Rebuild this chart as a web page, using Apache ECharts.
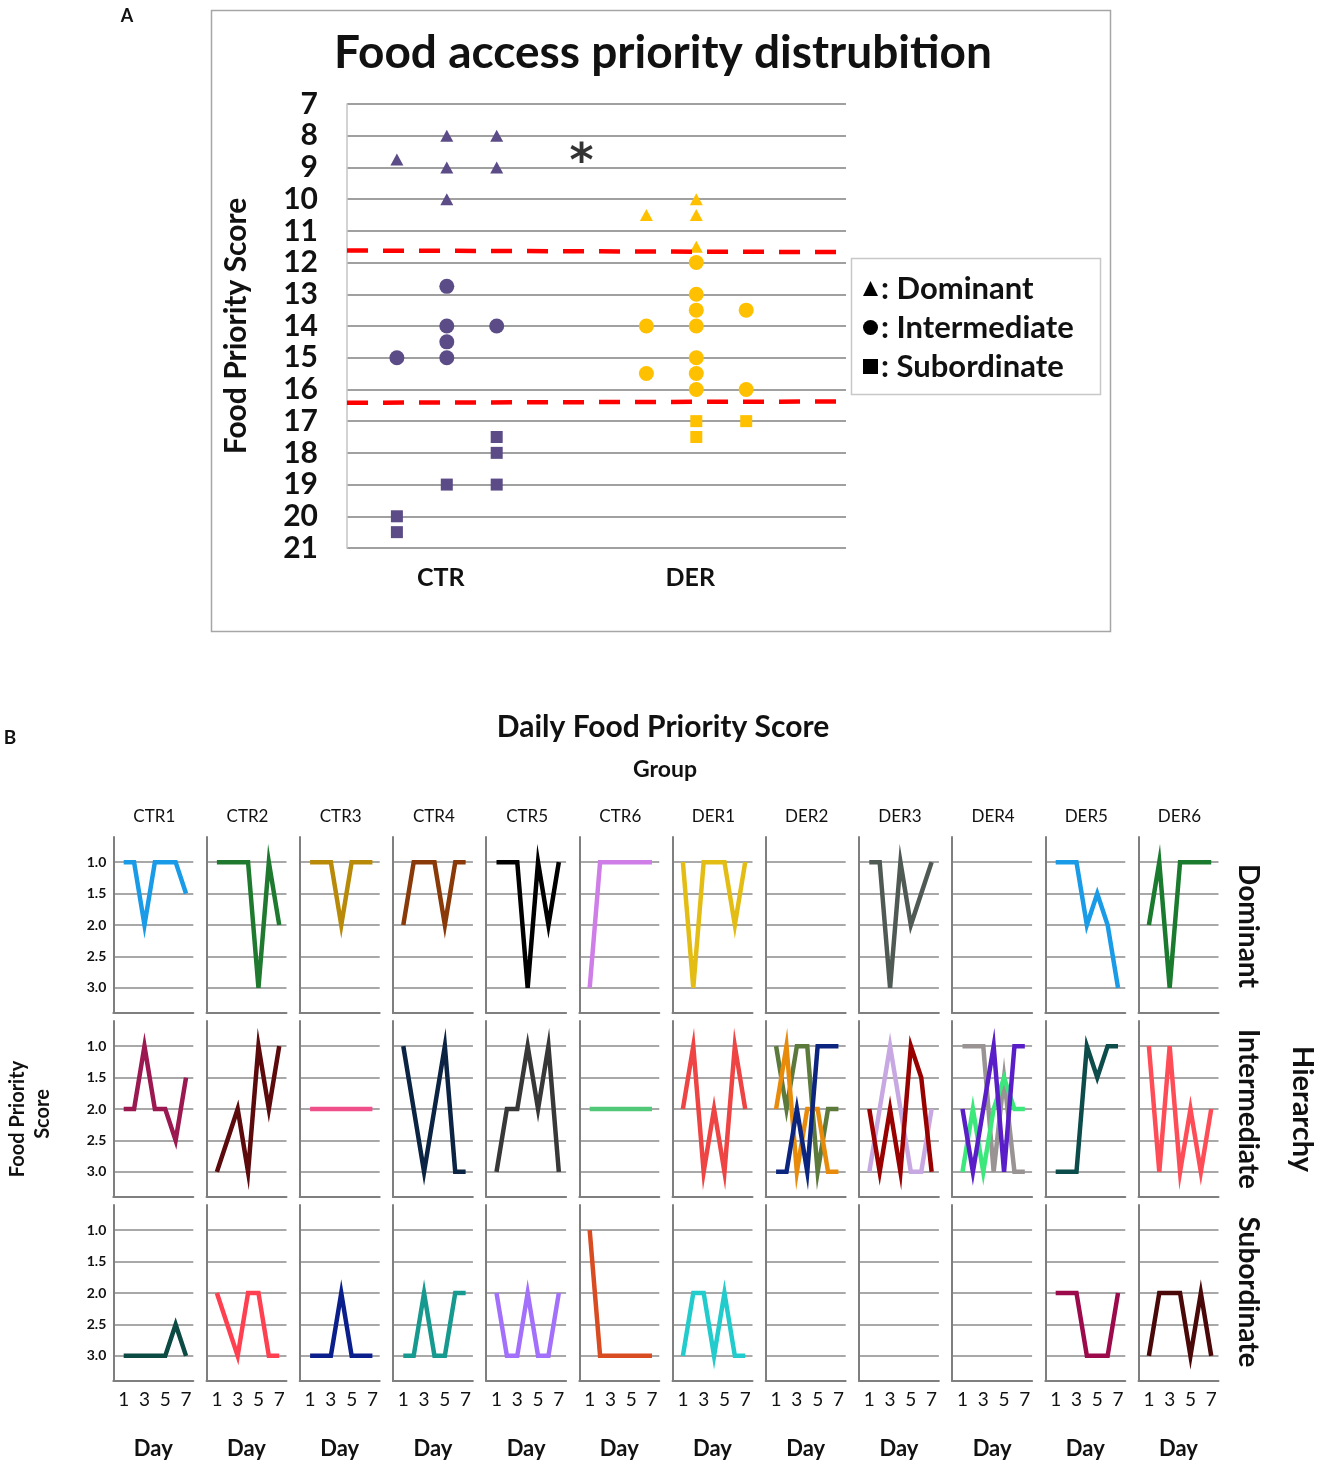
<!DOCTYPE html>
<html><head><meta charset="utf-8">
<script src="https://cdn.jsdelivr.net/npm/echarts@6/dist/echarts.min.js"></script>
<style>html,body{margin:0;padding:0;background:#fff}#c{width:1325px;height:1468px}</style>
</head><body><div id="c"></div><script>
const FONT = 'Lato, "Open Sans", sans-serif';

// ---------- Panel A data: [column slot, food priority score] ----------
const ctrDominant = [[1,8.75],[2,8],[2,9],[2,10],[3,8],[3,9]];
const ctrIntermediate = [[1,15],[2,12.75],[2,14],[2,14.5],[2,15],[3,14]];
const ctrSubordinate = [[1,20],[1,20.5],[2,19],[3,17.5],[3,18],[3,19]];
const derDominant = [[6,10.5],[7,10],[7,10.5],[7,11.5]];
const derIntermediate = [[6,14],[6,15.5],[7,12],[7,13],[7,13.5],[7,14],[7,15],[7,15.5],[7,16],[8,13.5],[8,16]];
const derSubordinate = [[7,17],[7,17.5],[8,17]];
const groupLabels = ['CTR','DER'];
const groupSlots = [2,7];
const upperCut = [[0,11.62],[9.9,11.67]];
const lowerCut = [[0,16.42],[9.9,16.38]];
const significance = [[4.7,8.52]];
const rankNames = ['Dominant','Intermediate','Subordinate'];
const rankIcons = ['triangle','circle','rect'];

// ---------- Panel B data ----------
const animals = ['CTR1','CTR2','CTR3','CTR4','CTR5','CTR6','DER1','DER2','DER3','DER4','DER5','DER6'];
const days = [1,2,3,4,5,6,7];
const dayTicks = [1,3,5,7];
const scoreTicks = [1,1.5,2,2.5,3];

const dominantScores = [
  [[1,1,2,1,1,1,1.5]],
  [[1,1,1,1,3,1,2]],
  [[1,1,1,2,1,1,1]],
  [[2,1,1,1,2,1,1]],
  [[1,1,1,3,1,2,1]],
  [[3,1,1,1,1,1,1]],
  [[1,3,1,1,1,2,1]],
  [],
  [[1,1,3,1,2,1.5,1]],
  [],
  [[1,1,1,2,1.5,2,3]],
  [[2,1,3,1,1,1,1]]
];
const dominantColors = [['#1a9be8'],['#1f7a2f'],['#b88a08'],['#8a3a08'],['#000000'],['#cf7ee8'],['#e3bd14'],[],['#4f5a55'],[],['#1a9be8'],['#1a7a2e']];

const intermediateScores = [
  [[2,2,1,2,2,2.5,1.5]],
  [[3,2.5,2,3,1,2,1]],
  [[2,2,2,2,2,2,2]],
  [[1,2,3,2,1,3,3]],
  [[3,2,2,1,2,1,3]],
  [[2,2,2,2,2,2,2]],
  [[2,1,3,2,3,1,2]],
  [[1,2,1,1,3,2,2],[2,1,3,2,2,3,3],[3,3,2,3,1,1,1]],
  [[3,2,1,2,3,3,2],[2,3,2,3,1,1.5,3]],
  [[1,1,1,3,1.5,3,3],[3,2,3,2,1.5,2,2],[2,3,2,1,3,1,1]],
  [[3,3,3,1,1.5,1,1]],
  [[1,3,1,3,2,3,2]]
];
const intermediateColors = [['#9c1850'],['#5c0a0c'],['#f0508a'],['#0c2444'],['#383838'],['#50c878'],['#ee4444'],
  ['#5b7a3c','#e88a0a','#0c2680'],['#c8a8e2','#990000'],['#999393','#3ce87c','#5a1ec8'],['#0c4c4a'],['#ff4d58']];

const subordinateScores = [
  [[3,3,3,3,3,2.5,3]],
  [[2,2.5,3,2,2,3,3]],
  [[3,3,3,2,3,3,3]],
  [[3,3,2,3,3,2,2]],
  [[2,3,3,2,3,3,2]],
  [[1,3,3,3,3,3,3]],
  [[3,2,2,3,2,3,3]],
  [],[],[],
  [[2,2,2,3,3,3,2]],
  [[3,2,2,2,3,2,3]]
];
const subordinateColors = [['#0c4a44'],['#ff4050'],['#0a1f8c'],['#16998e'],['#a270fa'],['#d94c22'],['#22cccc'],[],[],[],['#9c0a4c'],['#4a0808']];

const rowScores = [dominantScores, intermediateScores, subordinateScores];
const rowColors = [dominantColors, intermediateColors, subordinateColors];

// ---------- Build option ----------
const PURPLE = '#5b4b87', GOLD = '#ffc000';
const option = {
  animation: false,
  backgroundColor: '#fff',
  grid: [], xAxis: [], yAxis: [], series: [], graphic: [],
  legend: {
    left: 858, top: 268, orient: 'vertical', itemWidth: 15, itemHeight: 15, itemGap: 8,
    selectedMode: false, z: 6,
    data: rankNames.map((n,i)=>({name:n, icon:rankIcons[i], itemStyle:{color:'#000'}})),
    formatter: n => ': ' + n,
    textStyle: {fontSize: 31, fontWeight: 'bold', color: '#111', fontFamily: FONT, padding:[0,0,0,-2]}
  }
};

// Panel A grid
option.grid.push({left:347, top:104, width:499, height:444});
option.xAxis.push({
  type:'value', gridIndex:0, min:0, max:10, interval:1,
  splitLine:{show:false}, axisLine:{show:false}, axisTick:{show:false},
  axisLabel:{customValues: groupSlots, formatter: v => { const i = groupSlots.indexOf(v); return i>=0 ? groupLabels[i] : ''; },
    fontSize:25, fontWeight:'bold', color:'#111', fontFamily:FONT, margin:17, padding:[0,12,0,0]}
});
option.yAxis.push({
  type:'value', gridIndex:0, inverse:true, min:7, max:21, interval:1,
  axisLine:{show:true, lineStyle:{color:'#c4c4c4', width:1.5}}, axisTick:{show:false},
  splitLine:{show:true, lineStyle:{color:'#a0a0a0', width:2}},
  axisLabel:{fontSize:30, fontWeight:'bold', color:'#111', fontFamily:FONT, margin:29},
  name:'Food Priority Score', nameLocation:'middle', nameGap:96,
  nameTextStyle:{fontSize:30, fontWeight:'bold', color:'#111', fontFamily:FONT}
});
const scatterSets = [
  [ctrDominant, derDominant],
  [ctrIntermediate, derIntermediate],
  [ctrSubordinate, derSubordinate]
];
const symSizes = [[13,12],[15,15],[12,12]];
scatterSets.forEach((pair, r) => {
  pair.forEach((data, g) => {
    option.series.push({
      type:'scatter', name: rankNames[r], xAxisIndex:0, yAxisIndex:0, data,
      symbol: rankIcons[r], symbolSize: symSizes[r],
      itemStyle:{color: g===0 ? PURPLE : GOLD, opacity:1}, silent:true
    });
  });
});
[upperCut, lowerCut].forEach(d => {
  option.series.push({
    type:'line', xAxisIndex:0, yAxisIndex:0, data:d, symbol:'none', silent:true,
    lineStyle:{color:'#ff0000', width:4.5, type:[21,15]}, z:3
  });
});
option.series.push({
  type:'scatter', xAxisIndex:0, yAxisIndex:0, data: significance, symbolSize:1,
  itemStyle:{color:'rgba(0,0,0,0)'}, silent:true,
  label:{show:true, position:'inside', formatter:'*', fontSize:46, fontWeight:'bold', color:'#000', fontFamily:'"DejaVu Sans", sans-serif', offset:[0,12]}
});

// Panel B grids
const rowTops = [837, 1021, 1205];
animals.forEach((a, c) => {
  for (let r = 0; r < 3; r++) {
    const gi = option.grid.length;
    option.grid.push({left: 113.3 + 93.2*c, top: rowTops[r], width: 80, height: 176});
    option.xAxis.push({
      type:'value', gridIndex:gi, min:0, max:7.7, interval:1,
      axisLine:{show:true, onZero:false, lineStyle:{color:'#7f7f7f', width:2}},
      axisTick:{show:false}, splitLine:{show:false},
      axisLabel:{show: r===2, customValues: dayTicks, formatter: v => dayTicks.includes(v) ? String(v) : '',
        fontSize:19, color:'#111', fontFamily:FONT, margin:9},
      name: r===2 ? 'Day' : '', nameLocation:'middle', nameGap:57,
      nameTextStyle:{fontSize:22, fontWeight:'bold', color:'#111', fontFamily:FONT}
    });
    option.yAxis.push({
      type:'value', gridIndex:gi, inverse:true, min:0.6, max:3.4,
      axisLine:{show:true, onZero:false, lineStyle:{color:'#7f7f7f', width:2}},
      axisTick:{show:false, customValues: scoreTicks},
      splitLine:{show:true, lineStyle:{color:'#a8a8a8', width:2}},
      axisLabel:{show: c===0, customValues: scoreTicks, formatter: v => v.toFixed(1),
        fontSize:14, fontWeight:'bold', color:'#111', fontFamily:FONT, margin:7}
    });
    const sets = rowScores[r][c];
    const cols = rowColors[r][c];
    if (sets.length === 0) {
      option.series.push({type:'line', xAxisIndex:gi, yAxisIndex:gi, data:[], silent:true});
    }
    sets.forEach((vals, k) => {
      option.series.push({
        type:'line', xAxisIndex:gi, yAxisIndex:gi, silent:true, symbol:'none',
        data: vals.map((v,i) => [days[i], v]),
        lineStyle:{color: cols[k], width:4.5, join:'miter', miterLimit:10, cap:'butt'}
      });
    });
  }
});

// ---------- Text and frames ----------
function txt(text, x, y, size, weight, opts) {
  return Object.assign({type:'text', x, y, silent:true, z:10,
    style:{text, fontSize:size, fontWeight:weight, fontFamily:FONT, fill:'#111', align:'center', verticalAlign:'middle'}}, opts||{});
}
option.graphic.push({type:'rect', silent:true, z:0, shape:{x:211.5, y:10.5, width:899, height:621}, style:{fill:'none', stroke:'#a6a6a6', lineWidth:1.5}});
option.graphic.push({type:'rect', silent:true, z:1, shape:{x:851.5, y:258.5, width:249, height:136}, style:{fill:'#fff', stroke:'#c8c8c8', lineWidth:1.5}});
option.graphic.push(txt('A', 127, 16, 18, 'bold'));
option.graphic.push(txt('Food access priority distrubition', 663, 53, 46, 'bold'));
option.graphic.push(txt('B', 10, 738, 19, 'bold'));
option.graphic.push(txt('Daily Food Priority Score', 663, 727, 30, 'bold'));
option.graphic.push(txt('Group', 665, 770, 23, 'bold'));
animals.forEach((a, c) => option.graphic.push(txt(a, 113.3 + 93.2*c + 41, 817, 17, 'normal')));
const rankCenters = [926, 1109, 1292];
rankNames.forEach((n, r) => option.graphic.push(txt(n, 1248, rankCenters[r], 28, 'bold', {rotation: -Math.PI/2})));
option.graphic.push(txt('Hierarchy', 1302, 1109, 29, 'bold', {rotation: -Math.PI/2}));
option.graphic.push(txt('Food Priority', 18, 1119, 20, 'bold', {rotation: Math.PI/2}));
option.graphic.push(txt('Score', 43, 1114, 20, 'bold', {rotation: Math.PI/2}));

const chart = echarts.init(document.getElementById('c'), null, {renderer:'canvas'});
chart.setOption(option);
</script></body></html>
